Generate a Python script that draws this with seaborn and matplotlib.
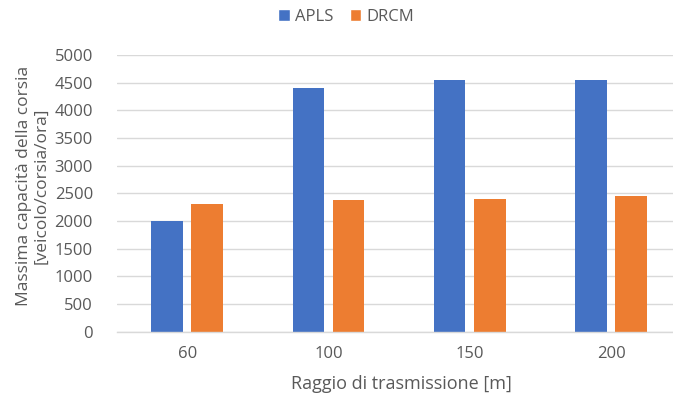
import matplotlib
matplotlib.use("Agg")
import matplotlib.pyplot as plt
from matplotlib.patches import Patch
import seaborn as sns
import pandas as pd

# Data
raggi = ["60", "100", "150", "200"]
apls = [2000, 4400, 4550, 4550]
drcm = [2310, 2375, 2400, 2450]
series_names = ["APLS", "DRCM"]
y_ticks = [0, 500, 1000, 1500, 2000, 2500, 3000, 3500, 4000, 4500, 5000]

df = pd.DataFrame({
    "Raggio": raggi * 2,
    "Capacita": apls + drcm,
    "Metodo": [series_names[0]] * len(raggi) + [series_names[1]] * len(raggi),
})

sns.set_theme(style="white")
plt.rcParams["font.family"] = ["Open Sans", "DejaVu Sans"]

BLUE = "#4472C4"
ORANGE = "#ED7D31"
TEXT = "#595959"
GRID = "#D9D9D9"

fig = plt.figure(figsize=(6.73, 3.97), dpi=100)
ax = fig.add_axes([116.5 / 673, 1 - 331.7 / 397, (673 - 116.5) / 673, (331.7 - 55) / 397])

sns.barplot(
    data=df, x="Raggio", y="Capacita", hue="Metodo",
    order=raggi, hue_order=series_names,
    palette=[BLUE, ORANGE], width=0.569, gap=0.216,
    saturation=1, linewidth=0, legend=False, ax=ax,
)

ax.set_ylim(0, 5000)
ax.set_yticks(y_ticks)
ax.set_xlim(-0.5, (673 - 116.5) / 141.3 - 0.5)
ax.grid(axis="y", color=GRID, linewidth=1)
ax.set_axisbelow(True)
for side in ["top", "right", "left"]:
    ax.spines[side].set_visible(False)
ax.spines["bottom"].set_color(GRID)
ax.spines["bottom"].set_linewidth(1)
ax.tick_params(axis="both", length=0, labelsize=12, colors=TEXT)
ax.tick_params(axis="y", pad=17)
ax.tick_params(axis="x", pad=10)
ax.set_xlabel("")
ax.set_ylabel("")

fig.text(401 / 673, 1 - 384 / 397, "Raggio di trasmissione [m]",
         ha="center", va="center", fontsize=13, color=TEXT)
fig.text(33 / 673, 1 - 186 / 397, "Massima capacità della corsia\n[veicolo/corsia/ora]",
         ha="center", va="center", rotation=90, multialignment="center",
         fontsize=12.5, color=TEXT, linespacing=1.15)

handles = [Patch(facecolor=BLUE, label=series_names[0]),
           Patch(facecolor=ORANGE, label=series_names[1])]
fig.legend(handles=handles, loc="center", bbox_to_anchor=(346 / 673, 1 - 17 / 397),
           ncol=2, frameon=False, fontsize=12, labelcolor=TEXT,
           handlelength=0.7, handleheight=0.7, handletextpad=0.3, columnspacing=1.0)

fig.savefig("out.png", dpi=100)
